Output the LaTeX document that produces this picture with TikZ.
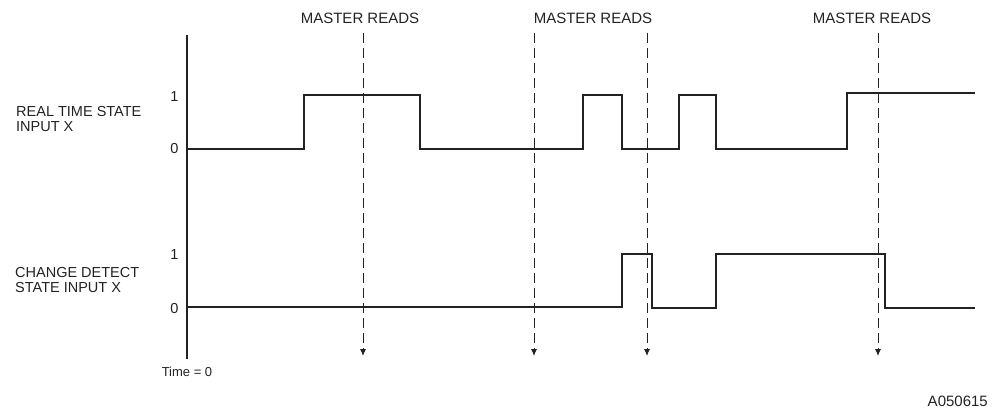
\documentclass[tikz,border=0pt]{standalone}
\usepackage{fontspec}
\setmainfont{Liberation Sans}
\usetikzlibrary{arrows.meta}
\definecolor{ink}{HTML}{222222}
\begin{document}
\begin{tikzpicture}[x=1pt,y=-1pt,
  lbl/.style={inner sep=0pt,font=\fontsize{14.5}{14.5}\selectfont,text=ink},
  mread/.style={inner sep=0pt,font=\fontsize{15}{15}\selectfont,text=ink,anchor=base},
  lvl/.style={inner sep=0pt,font=\fontsize{14.5}{14.5}\selectfont,text=ink,anchor=base},
  small/.style={inner sep=0pt,font=\fontsize{13}{13}\selectfont,text=ink},
  wave/.style={draw=ink,line width=2pt,line join=miter},
  axis/.style={draw=ink,line width=1.4pt},
  readline/.style={draw=ink,line width=0.9pt,dash pattern=on 10pt off 5pt,-{Latex[length=7pt,width=6pt]}}]
\useasboundingbox (0,0) rectangle (994,409);
% axis
\coordinate (ax0) at (187,35);
\coordinate (ax1) at (187,359);
\draw[axis] (ax0) -- (ax1);
\node[small,anchor=base] (t0) at (187,376) {Time = 0};
% left labels
\node[lbl,anchor=base west] (rt1) at (16,117) {REAL TIME STATE};
\node[lbl,anchor=base west] (rt2) at (16,132) {INPUT X};
\node[lbl,anchor=base west] (cd1) at (15,277) {CHANGE DETECT};
\node[lbl,anchor=base west] (cd2) at (15,292) {STATE INPUT X};
% level labels
\node[lvl] (t1) at (174.5,102) {1};
\node[lvl] (t0l) at (174.5,154) {0};
\node[lvl] (b1) at (174.5,259) {1};
\node[lvl] (b0l) at (174.5,313) {0};
% master reads labels
\node[mread] (m1) at (360,24) {MASTER READS};
\node[mread] (m2) at (593,24) {MASTER READS};
\node[mread] (m3) at (872,24) {MASTER READS};
% read lines
\foreach \n/\x in {r1/363,r2/534,r3/647,r4/878}{
  \coordinate (\n a) at (\x,33);
  \coordinate (\n b) at (\x,356);
  \draw[readline] (\n a) -- (\n b);
}
% real time waveform
\draw[wave] (187,149) -- (304,149) -- (304,95) -- (420,95) -- (420,149)
  -- (583,149) -- (583,95) -- (622,95) -- (622,149) -- (679,149) -- (679,95)
  -- (716,95) -- (716,149) -- (847,149) -- (847,93) -- (975,93);
% change detect waveform
\draw[wave] (187,307) -- (622,307) -- (622,254) -- (652,254) -- (652,308)
  -- (716,308) -- (716,254) -- (885,254) -- (885,308) -- (975,308);
\node[small,anchor=base east,font=\fontsize{15}{15}\selectfont] (id) at (988,406) {A050615};
\end{tikzpicture}
\end{document}
